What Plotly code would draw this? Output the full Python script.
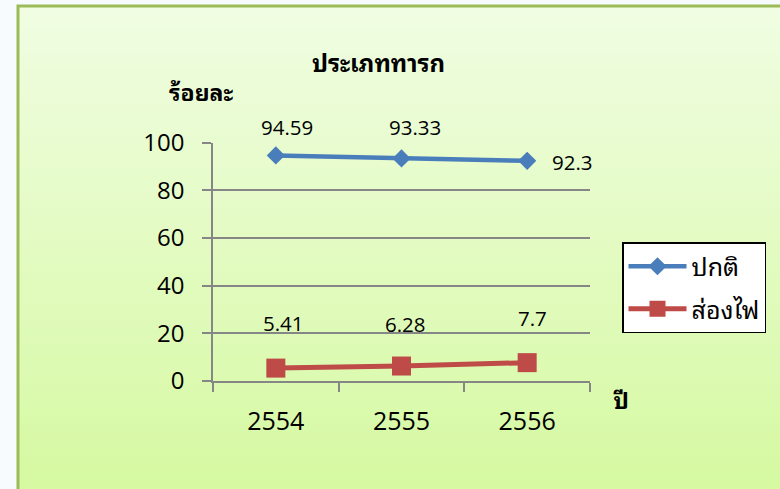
import plotly.graph_objects as go

# ---- data ----
years = ["2554", "2555", "2556"]
normal = [94.59, 93.33, 92.3]       # ปกติ
phototherapy = [5.41, 6.28, 7.7]    # ส่องไฟ
y_ticks = [0, 20, 40, 60, 80, 100]
series_names = ["ปกติ", "ส่องไฟ"]
title_text = "ประเภททารก"
y_title = "ร้อยละ"
x_title = "ปี"

# label offsets (pixels) for data labels
normal_offsets = [(11, 28), (13, 31), (45, -1)]
photo_offsets = [(8, 45), (4, 42), (5, 45)]

W, H = 780, 489
BLUE = "#4A7EBB"
RED = "#BE4B48"
FONT = "Open Sans, Noto Sans, sans-serif"
THAI_FONT = "Noto Sans Thai Looped, Tahoma, Loma, Garuda, Noto Sans Thai, sans-serif"

fig = go.Figure()
fig.add_trace(go.Scatter(
    x=years, y=normal, name=series_names[0], mode="lines+markers",
    line=dict(color=BLUE, width=4.5),
    marker=dict(symbol="diamond", size=14, color=BLUE),
    legendgroup="a",
))
fig.add_trace(go.Scatter(
    x=years, y=phototherapy, name=series_names[1], mode="lines+markers",
    line=dict(color=RED, width=5),
    marker=dict(symbol="square", size=19, color=RED),
    legendgroup="b",
))

annotations = []
for ys, offs in ((normal, normal_offsets), (phototherapy, photo_offsets)):
    for i, (yv, (dx, dy)) in enumerate(zip(ys, offs)):
        annotations.append(dict(
            x=i, y=yv, xref="x", yref="y", text=f"{yv:g}", showarrow=False,
            xanchor="center", yanchor="middle",
            xshift=dx, yshift=dy, font=dict(family=FONT, size=20.5, color="#000"),
        ))

annotations += [
    dict(x=378 / W, y=1 - 61 / H, xref="paper", yref="paper", text=f"<b>{title_text}</b>",
         xanchor="center", yanchor="middle",
         showarrow=False, font=dict(family=THAI_FONT, size=24, color="#000")),
    dict(x=201 / W, y=1 - 90 / H, xref="paper", yref="paper", text=f"<b>{y_title}</b>",
         xanchor="center", yanchor="middle",
         showarrow=False, font=dict(family=THAI_FONT, size=23, color="#000")),
    dict(x=621 / W, y=1 - 398 / H, xref="paper", yref="paper", text=f"<b>{x_title}</b>",
         xanchor="center", yanchor="middle",
         showarrow=False, font=dict(family=THAI_FONT, size=23, color="#000")),
]

# gradient background bands inside frame
shapes = []
fx0, fy0 = 18, 6
top = (240, 253, 226)
bot = (214, 249, 162)
n = 60
for i in range(n):
    t = i / (n - 1)
    c = tuple(round(top[k] + (bot[k] - top[k]) * t) for k in range(3))
    y0 = fy0 + (H - fy0) * i / n
    y1 = fy0 + (H - fy0) * (i + 1) / n + 0.6
    shapes.append(dict(type="rect", xref="paper", yref="paper", layer="below",
                       x0=fx0 / W, x1=1, y0=1 - min(y1, H) / H, y1=1 - y0 / H,
                       fillcolor=f"rgb{c}", line=dict(width=0)))
shapes.append(dict(type="rect", xref="paper", yref="paper", layer="below",
                   x0=fx0 / W, x1=1.01, y0=-0.01, y1=1 - fy0 / H,
                   fillcolor="rgba(0,0,0,0)", line=dict(color="#9BBB59", width=3)))

fig.update_layout(
    width=W, height=H,
    margin=dict(l=0, r=0, t=0, b=0, pad=0, autoexpand=False),
    paper_bgcolor="#F8FBFE",
    plot_bgcolor="rgba(0,0,0,0)",
    shapes=shapes,
    annotations=annotations,
    showlegend=True,
    legend=dict(x=622 / W, y=1 - 242 / H, xanchor="left", yanchor="top",
                bgcolor="#FFFFFF", bordercolor="#000000", borderwidth=1.5,
                font=dict(family=THAI_FONT, size=25, color="#000"),
                tracegroupgap=7, itemwidth=58),
    xaxis=dict(
        domain=[213 / W, 590 / W], range=[-0.5, 2.5], type="category",
        showgrid=False, showline=True, linecolor="#868686", linewidth=1.5,
        ticks="outside", tickson="boundaries", ticklen=9, tickcolor="#868686", tickwidth=1.5,
        ticklabelstandoff=17,
        tickfont=dict(family=FONT, size=25, color="#000"), zeroline=False, automargin=False,
    ),
    yaxis=dict(
        domain=[1 - 381 / H, 1 - 142.5 / H], range=[0, 100],
        tickvals=y_ticks, showgrid=True, gridcolor="#868686", gridwidth=1.5,
        showline=True, linecolor="#868686", linewidth=1.5,
        ticks="outside", ticklen=9, tickcolor="#868686", tickwidth=1.5,
        ticklabelstandoff=13,
        tickfont=dict(family=FONT, size=24, color="#000"), zeroline=False, automargin=False,
    ),
)

fig.write_html("out.html", config={"displayModeBar": False},
               post_script="document.body.style.margin='0px';")
